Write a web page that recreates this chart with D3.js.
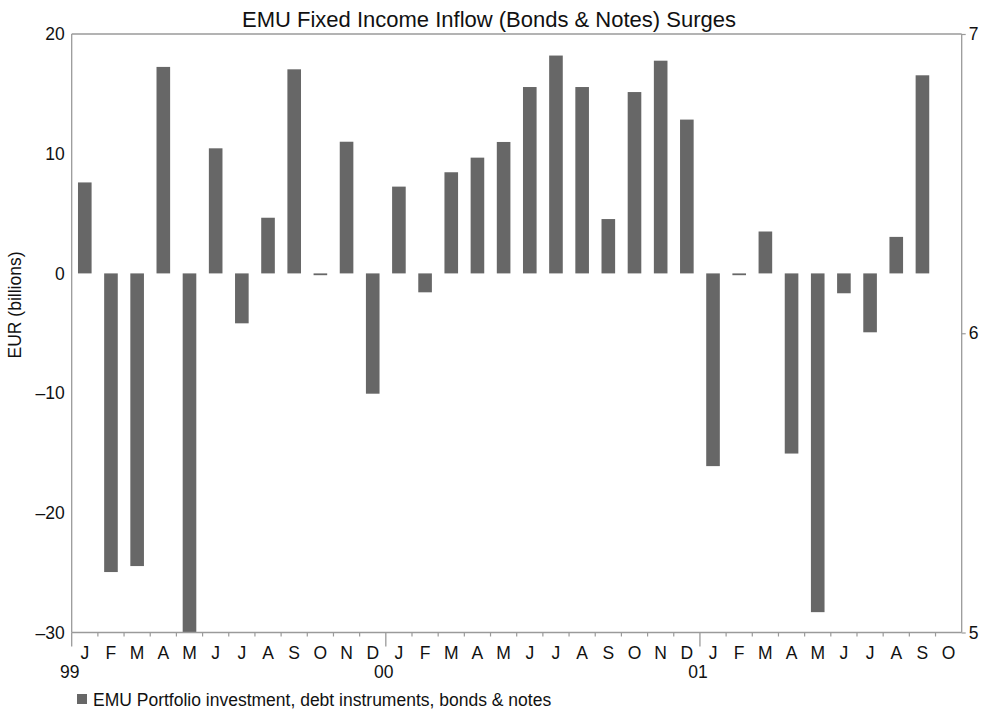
<!DOCTYPE html>
<html>
<head>
<meta charset="utf-8">
<script src="https://cdn.jsdelivr.net/npm/d3@7"></script>
<style>
  html, body { margin: 0; padding: 0; background: #fff; }
  svg { display: block; font-family: "Liberation Sans", Arial, sans-serif; }
</style>
</head>
<body>
<svg id="chart" width="985" height="710"></svg>
<script>
// ---- data ----
const months = ["J","F","M","A","M","J","J","A","S","O","N","D",
                "J","F","M","A","M","J","J","A","S","O","N","D",
                "J","F","M","A","M","J","J","A","S","O"];
const yearLabels = ["99","00","01"];
const yearStartIndex = [0, 12, 24];
const values = [7.6, -24.95, -24.45, 17.25, -30.0, 10.45, -4.17, 4.65, 17.05, -0.15, 11.0, -10.05,
                7.25, -1.58, 8.45, 9.67, 10.98, 15.57, 18.2, 15.57, 4.54, 15.15, 17.77, 12.85,
                -16.1, -0.15, 3.5, -15.05, -28.3, -1.66, -4.92, 3.05, 16.55, null];
const leftTicks = [20, 10, 0, -10, -20, -30];
const rightTicks = [7, 6, 5];
const titleText = "EMU Fixed Income Inflow (Bonds & Notes) Surges";
const yLabelText = "EUR (billions)";
const legendText = "EMU Portfolio investment, debt instruments, bonds & notes";

// ---- layout ----
const svg = d3.select("#chart");
const L = 71.7, R = 961.7, T = 34, B = 632.5;
const axisColor = "#9a9a9a";
const barColor = "#676767";
const FS = 17.5;

const x = d3.scaleBand().domain(d3.range(months.length)).range([L, R]).paddingInner(0.48).paddingOuter(0.24);
const xs = d3.scaleLinear().domain([0, months.length]).range([L, R]);
const y = d3.scaleLinear().domain([-30, 20]).range([B, T]);
const y2 = d3.scaleLinear().domain([5, 7]).range([B, T]);

// bars
svg.append("g").selectAll("rect")
  .data(values.map((v, i) => ({v, i})).filter(d => d.v !== null))
  .join("rect")
  .attr("x", d => x(d.i))
  .attr("width", x.bandwidth())
  .attr("y", d => y(Math.max(0, d.v)))
  .attr("height", d => Math.max(1.2, Math.abs(y(d.v) - y(0))))
  .attr("fill", barColor);

// frame
const frame = svg.append("g").attr("fill", "none").attr("stroke", axisColor).attr("stroke-width", 1.3);
frame.append("line").attr("x1", L).attr("x2", R).attr("y1", T).attr("y2", T);
frame.append("line").attr("x1", L).attr("x2", R).attr("y1", B).attr("y2", B);
frame.append("line").attr("x1", L).attr("x2", L).attr("y1", T).attr("y2", B);
frame.append("line").attr("x1", R).attr("x2", R).attr("y1", T).attr("y2", B);

// left axis
const leftAxis = svg.append("g").attr("transform", `translate(${L},0)`)
  .call(d3.axisLeft(y).tickValues(leftTicks).tickSize(0).tickPadding(7)
        .tickFormat(d => d < 0 ? "\u2013" + Math.abs(d) : d));
leftAxis.select(".domain").remove();
leftAxis.selectAll("text").attr("font-size", FS).attr("fill", "#111")
  .attr("font-family", "'Liberation Sans', Arial, sans-serif");

// right axis
const rightAxis = svg.append("g").attr("transform", `translate(${R},0)`)
  .call(d3.axisRight(y2).tickValues(rightTicks).tickSize(4).tickPadding(3).tickFormat(d3.format("d")));
rightAxis.select(".domain").remove();
rightAxis.selectAll("line").attr("stroke", axisColor).attr("stroke-width", 1.2);
rightAxis.selectAll("text").attr("font-size", FS).attr("fill", "#111")
  .attr("font-family", "'Liberation Sans', Arial, sans-serif");

// bottom ticks: month boundaries (minor) and year starts (major)
const boundaries = d3.range(1, months.length);
svg.append("g").selectAll("line.minor")
  .data(boundaries.filter(b => !yearStartIndex.includes(b)))
  .join("line")
  .attr("x1", d => xs(d)).attr("x2", d => xs(d))
  .attr("y1", B).attr("y2", B + 4)
  .attr("stroke", axisColor).attr("stroke-width", 1.2);
svg.append("g").selectAll("line.major")
  .data(yearStartIndex)
  .join("line")
  .attr("x1", d => xs(d)).attr("x2", d => xs(d))
  .attr("y1", B).attr("y2", B + 14)
  .attr("stroke", axisColor).attr("stroke-width", 1.3);

// month labels
svg.append("g").selectAll("text")
  .data(months)
  .join("text")
  .attr("x", (d, i) => x(i) + x.bandwidth() / 2)
  .attr("y", 659)
  .attr("text-anchor", "middle")
  .attr("font-size", FS)
  .attr("fill", "#111")
  .text(d => d);

// year labels
svg.append("g").selectAll("text")
  .data(yearLabels)
  .join("text")
  .attr("x", (d, i) => xs(yearStartIndex[i]) - 2)
  .attr("y", 678)
  .attr("text-anchor", "middle")
  .attr("font-size", FS)
  .attr("fill", "#111")
  .text(d => d);

// title
svg.append("text")
  .attr("x", 489).attr("y", 27)
  .attr("text-anchor", "middle")
  .attr("font-size", 22)
  .attr("fill", "#111")
  .text(titleText);

// y label
svg.append("text")
  .attr("transform", "translate(21,305) rotate(-90)")
  .attr("text-anchor", "middle")
  .attr("font-size", FS)
  .attr("fill", "#111")
  .text(yLabelText);

// legend
svg.append("rect").attr("x", 77).attr("y", 694).attr("width", 10).attr("height", 10).attr("fill", barColor);
svg.append("text").attr("x", 93).attr("y", 706).attr("font-size", FS).attr("fill", "#111").text(legendText);
</script>
</body>
</html>
